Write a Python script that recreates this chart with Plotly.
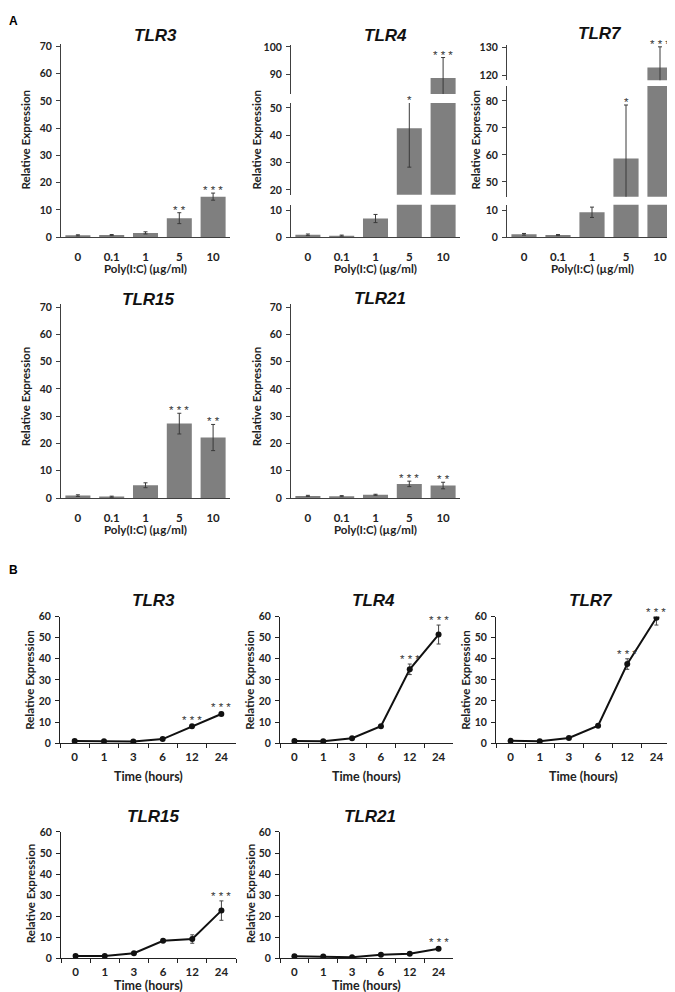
import plotly.graph_objects as go

W, H = 675, 992

# ---------------- Panel A data (Poly(I:C) dose) ----------------
doses = ["0", "0.1", "1", "5", "10"]
a_tlr3 = [0.7, 0.8, 1.6, 7.0, 14.9]
a_tlr3_err = [0.2, 0.2, 0.4, 2.0, 1.3]
a_tlr3_sig = ["", "", "", "* *", "* * *"]

a_tlr4 = [0.9, 0.6, 6.9, 42.5, 88.6]
a_tlr4_err = [0.3, 0.2, 1.5, 14.2, 7.5]
a_tlr4_sig = ["", "", "", "*", "* * *"]

a_tlr7 = [1.1, 0.8, 9.2, 58.7, 122.8]
a_tlr7_err = [0.3, 0.2, 1.9, 19.8, 7.5]
a_tlr7_sig = ["", "", "", "*", "* * *"]

a_tlr15 = [0.9, 0.5, 4.7, 27.3, 22.2]
a_tlr15_err = [0.3, 0.2, 0.9, 3.8, 4.8]
a_tlr15_sig = ["", "", "", "* * *", "* *"]

a_tlr21 = [0.8, 0.7, 1.2, 5.2, 4.6]
a_tlr21_err = [0.2, 0.2, 0.2, 1.0, 1.2]
a_tlr21_sig = ["", "", "", "* * *", "* *"]

# ---------------- Panel B data (time course) ----------------
hours = ["0", "1", "3", "6", "12", "24"]
b_tlr3 = [1.0, 0.9, 0.7, 1.9, 8.0, 13.8]
b_tlr3_err = [0.2, 0.1, 0.1, 0.3, 0.8, 0.8]
b_tlr3_sig = ["", "", "", "", "* * *", "* * *"]

b_tlr4 = [1.0, 0.9, 2.3, 8.0, 35.0, 51.5]
b_tlr4_err = [0.2, 0.2, 0.4, 0.6, 2.5, 4.5]
b_tlr4_sig = ["", "", "", "", "* * *", "* * *"]

b_tlr7 = [1.1, 0.9, 2.4, 8.2, 37.5, 59.5]
b_tlr7_err = [0.2, 0.2, 0.4, 0.6, 2.5, 3.5]
b_tlr7_sig = ["", "", "", "", "* * *", "* * *"]

b_tlr15 = [1.1, 1.1, 2.5, 8.4, 9.2, 22.7]
b_tlr15_err = [0.2, 0.2, 0.4, 0.5, 2.0, 4.6]
b_tlr15_sig = ["", "", "", "", "", "* * *"]

b_tlr21 = [1.0, 0.9, 0.6, 1.7, 2.2, 4.6]
b_tlr21_err = [0.2, 0.2, 0.2, 0.3, 0.4, 0.6]
b_tlr21_sig = ["", "", "", "", "", "* * *"]

BAR_COLOR = "#7f7f7f"
AXIS_COLOR = "#404040"
TICK_FONT = dict(family="Lato", size=10.5, color="#222222", weight="bold")
XTICK_FONT = dict(family="Lato", size=11.5, color="#222222", weight="bold")
TITLE_FONT = dict(family="Liberation Sans", size=17, color="#111111", weight="bold", style="italic")
AXT_FONT = dict(family="Lato", size=11.5, color="#222222", weight="bold")
STAR_FONT = dict(family="Liberation Sans", size=11.5, color="#333333")


def xd(a, b):
    return [a / W, b / W]


def yd(top, bottom):
    return [1 - bottom / H, 1 - top / H]


fig = go.Figure()
layout = {}
annotations = []
counter = {"x": 0, "y": 0}


def new_id(kind):
    counter[kind] += 1
    n = counter[kind]
    return (kind if n == 1 else f"{kind}{n}"), (f"{kind}axis" if n == 1 else f"{kind}axis{n}")


def add_text(x, y, text, font, angle=0, xanchor="center", yanchor="middle"):
    annotations.append(dict(x=x / W, y=1 - y / H, xref="paper", yref="paper", text=text,
                            showarrow=False, font=font, textangle=angle,
                            xanchor=xanchor, yanchor=yanchor))


def bar_panel(xpx, segments, cats, vals, errs, sigs, title, tpos, ytpos, xtitle, xtpos):
    xid, xkey = new_id("x")
    yids = []
    for i, (rng, pb, pt, tv) in enumerate(segments):
        yid, ykey = new_id("y")
        yids.append(yid)
        layout[ykey] = dict(domain=yd(pt, pb), range=rng, anchor=xid, showline=True,
                            linecolor=AXIS_COLOR, linewidth=1, ticks="outside", ticklen=4,
                            tickcolor=AXIS_COLOR, tickvals=tv, tickfont=TICK_FONT,
                            showgrid=False, zeroline=False, ticklabelstandoff=2)
        fig.add_trace(go.Bar(x=cats, y=vals, xaxis=xid, yaxis=yid, marker_color=BAR_COLOR,
                             marker_line_width=0, width=0.74, showlegend=False,
                             error_y=dict(type="data", array=errs, color="#3a3a3a",
                                          thickness=1, width=2)))
    layout[xkey] = dict(domain=xd(*xpx), anchor=yids[0], type="category", showline=True,
                        linecolor=AXIS_COLOR, linewidth=1, ticks="", tickfont=XTICK_FONT,
                        showgrid=False, zeroline=False, ticklabelstandoff=9,
                        range=[-0.5, len(cats) - 0.5])
    # significance stars
    for i, (v, e, s) in enumerate(zip(vals, errs, sigs)):
        if not s:
            continue
        top = v + e
        seg = 0
        for j, (rng, pb, pt, tv) in enumerate(segments):
            if v >= rng[0]:
                seg = j
        rng = segments[seg][0]
        ystar = min(top, rng[1])
        annotations.append(dict(x=i, y=ystar, xref=xid, yref=yids[seg], text=s, showarrow=False,
                                font=STAR_FONT, yanchor="bottom", yshift=-5))
    add_text(tpos[0], tpos[1], title, TITLE_FONT)
    add_text(ytpos[0], ytpos[1], "Relative Expression", AXT_FONT, angle=-90)
    add_text(xtpos[0], xtpos[1], xtitle, AXT_FONT)


def line_panel(xpx, ypx, cats, vals, errs, sigs, title, tpos, ytpos, xtpos):
    xid, xkey = new_id("x")
    yid, ykey = new_id("y")
    layout[ykey] = dict(domain=yd(*ypx), range=[0, 60], anchor=xid, showline=True,
                        linecolor="#222222", linewidth=1, ticks="outside", ticklen=4,
                        tickcolor="#222222", dtick=10, tickfont=TICK_FONT,
                        showgrid=False, zeroline=False, ticklabelstandoff=2)
    layout[xkey] = dict(domain=xd(*xpx), anchor=yid, type="category", showline=True,
                        linecolor="#222222", linewidth=1, ticks="outside", ticklen=4,
                        tickcolor="#222222", tickson="boundaries", tickfont=XTICK_FONT,
                        showgrid=False, zeroline=False, ticklabelstandoff=3,
                        range=[-0.5, len(cats) - 0.5])
    fig.add_trace(go.Scatter(x=cats, y=vals, xaxis=xid, yaxis=yid, mode="lines+markers",
                             line=dict(color="#111111", width=2), showlegend=False,
                             marker=dict(color="#111111", size=6),
                             error_y=dict(type="data", array=errs, color="#444444",
                                          thickness=1, width=2)))
    for i, (v, e, s) in enumerate(zip(vals, errs, sigs)):
        if not s:
            continue
        annotations.append(dict(x=i, y=min(v + e, 60), xref=xid, yref=yid, text=s,
                                showarrow=False, font=STAR_FONT, yanchor="bottom", yshift=-3))
    add_text(tpos[0], tpos[1], title, TITLE_FONT)
    add_text(ytpos[0], ytpos[1], "Relative Expression", AXT_FONT, angle=-90)
    add_text(xtpos[0], xtpos[1], "Time (hours)", dict(AXT_FONT, size=12.5))


XT = "Poly(I:C) (µg/ml)"
ticks70 = [0, 10, 20, 30, 40, 50, 60, 70]

# ---- Panel A, row 1 ----
bar_panel((53, 222), [([0, 71], 226, 30, ticks70)], doses, a_tlr3, a_tlr3_err, a_tlr3_sig,
          "TLR3", (147, 22), (17, 127), XT, (137, 258))
bar_panel((283, 452), [([0, 12], 226, 193, [0, 10]),
                       ([18.2, 51.8], 183, 90, [20, 30, 40, 50]),
                       ([82.8, 100.8], 81, 31, [90, 100])],
          doses, a_tlr4, a_tlr4_err, a_tlr4_sig,
          "TLR4", (377, 22), (248, 127), XT, (367, 258))
bar_panel((499, 669), [([0, 12], 226, 193, [0, 10]),
                       ([44.5, 85.5], 185, 73, [50, 60, 70, 80]),
                       ([118.2, 131.1], 67, 31, [120, 130])],
          doses, a_tlr7, a_tlr7_err, a_tlr7_sig,
          "TLR7", (592, 20), (467, 127), XT, (584, 258))

# ---- Panel A, row 2 ----
bar_panel((53, 222), [([0, 71], 490, 294, ticks70)], doses, a_tlr15, a_tlr15_err, a_tlr15_sig,
          "TLR15", (140, 289), (17, 387), XT, (137, 522))
bar_panel((283, 452), [([0, 71], 490, 294, ticks70)], doses, a_tlr21, a_tlr21_err, a_tlr21_sig,
          "TLR21", (372, 288), (248, 387), XT, (367, 522))

# ---- Panel B, row 1 ----
line_panel((52, 228), (610, 738), hours, b_tlr3, b_tlr3_err, b_tlr3_sig,
           "TLR3", (145, 594), (22, 674), (140, 772))
line_panel((272, 445), (610, 738), hours, b_tlr4, b_tlr4_err, b_tlr4_sig,
           "TLR4", (365, 594), (242, 674), (358, 772))
line_panel((488, 663), (610, 738), hours, b_tlr7, b_tlr7_err, b_tlr7_sig,
           "TLR7", (583, 594), (458, 674), (575, 772))

# ---- Panel B, row 2 ----
line_panel((53, 228), (828, 956), hours, b_tlr15, b_tlr15_err, b_tlr15_sig,
           "TLR15", (145, 812), (22, 890), (140, 983))
line_panel((272, 445), (828, 956), hours, b_tlr21, b_tlr21_err, b_tlr21_sig,
           "TLR21", (362, 812), (242, 890), (358, 983))

# panel letters
add_text(5, 7, "A", dict(family="Liberation Sans", size=12, color="#000000", weight="bold"), xanchor="center")
add_text(5, 563, "B", dict(family="Liberation Sans", size=12, color="#000000", weight="bold"), xanchor="center")

layout["annotations"] = annotations
fig.update_layout(width=W, height=H, margin=dict(l=0, r=0, t=0, b=0),
                  paper_bgcolor="white", plot_bgcolor="white", bargap=0.26, **layout)

fig.write_html("out.html")
